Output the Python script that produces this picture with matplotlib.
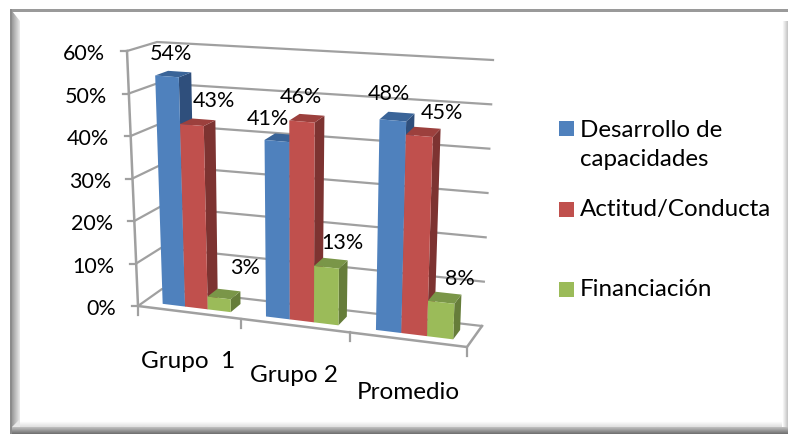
import matplotlib
matplotlib.use('Agg')
import matplotlib.pyplot as plt
import numpy as np
from matplotlib.patches import Polygon, Rectangle

plt.rcParams['font.family'] = ['Lato', 'DejaVu Sans']

grupos = ['Grupo  1', 'Grupo 2', 'Promedio']
series = ['Desarrollo de\ncapacidades', 'Actitud/Conducta', 'Financiación']
desarrollo = [54, 41, 48]
actitud = [43, 46, 45]
financiacion = [3, 13, 8]
ticks_y = [0, 10, 20, 30, 40, 50, 60]

colores = ['#4F81BD', '#C0504D', '#9BBB59']
laterales = ['#2F4F7C', '#7D3331', '#667D3A']
techos = ['#3A6498', '#9C403D', '#7A9648']

# esquinas de la caja 3D en pixeles: (x categoria, profundidad, valor)
esq = {(0, 0, 0): (138, 307), (1, 0, 0): (467, 348),
       (0, 1, 0): (162, 290), (1, 1, 0): (482, 327),
       (0, 0, 1): (127, 52), (1, 0, 1): (477, 80),
       (0, 1, 1): (157, 43), (1, 1, 1): (493, 61)}


def proy(u, v, w):
    # perspectiva en x y luego interpolacion trilineal dentro de la caja
    u = 0.91 * u / (1 - 0.09 * u)
    x, y = 0.0, 0.0
    for (a, b, c), (px, py) in esq.items():
        f = (u if a else 1 - u) * (v if b else 1 - v) * (w if c else 1 - w)
        x += f * px
        y += f * py
    return x, y


def cara(ax, puntos, color, z):
    ax.add_patch(Polygon([proy(*p) for p in puntos], closed=True, fc=color, ec='none', zorder=z))


def barra(ax, i, j, valor, z):
    u0 = (i + 0.185 + j * 0.222) / 3
    u1 = u0 + 0.222 / 3
    v0, v1 = 0.26, 0.71
    w = valor / 60
    cara(ax, [(u1, v0, 0), (u1, v1, 0), (u1, v1, w), (u1, v0, w)], laterales[j], z)
    cara(ax, [(u0, v0, w), (u1, v0, w), (u1, v1, w), (u0, v1, w)], techos[j], z)
    cara(ax, [(u0, v0, 0), (u1, v0, 0), (u1, v0, w), (u0, v0, w)], colores[j], z + 0.1)


fig = plt.figure(figsize=(7.88, 4.35), dpi=100)
ax = fig.add_axes([0, 0, 1, 1])

# marco biselado alrededor del grafico
ax.imshow(np.linspace(0.62, 0.9, 8).reshape(1, -1), cmap='gray', vmin=0, vmax=1,
          extent=(12, 20, 428, 12), aspect='auto', zorder=1)
ax.add_patch(Polygon([(12, 12), (20, 22), (20, 12)], fc='white', ec='none', zorder=1.5))
ax.add_patch(Polygon([(12, 428), (20, 420), (20, 428)], fc='#E8E8E8', ec='none', zorder=1.5))
ax.imshow(np.linspace(1.0, 0.88, 6).reshape(-1, 1), cmap='gray', vmin=0, vmax=1,
          extent=(20, 785, 428, 422), aspect='auto', zorder=1)
ax.imshow(np.linspace(1.0, 0.78, 6).reshape(1, -1), cmap='gray', vmin=0, vmax=1,
          extent=(782, 788, 428, 22), aspect='auto', zorder=1)
ax.add_patch(Rectangle((10, 10), 778, 2.5, fc='#9A9A9A', ec='none', zorder=2))
ax.add_patch(Rectangle((10, 10), 2.5, 425, fc='#8C8C8C', ec='none', zorder=2))
ax.imshow(np.linspace(0.74, 0.45, 8).reshape(-1, 1), cmap='gray', vmin=0, vmax=1,
          extent=(12, 788, 435, 428), aspect='auto', zorder=2)
ax.set_xlim(0, 788)
ax.set_ylim(435, 0)
ax.axis('off')

gris = '#A0A0A0'
for t in ticks_y:
    w = t / 60
    # linea de reticula: pared lateral y pared del fondo
    p = [proy(0, 0, w), proy(0, 1, w), proy(1, 1, w)]
    ax.plot([q[0] for q in p], [q[1] for q in p], color=gris, lw=1.6, zorder=3)
    x0, y0 = proy(0, 0, w)
    ax.plot([x0 - 6, x0], [y0, y0], color=gris, lw=1.6, zorder=3)
    ax.text(x0 - 21.5, y0 + 2.5, f'{t}%', ha='right', va='center', fontsize=15.5, color='black', zorder=6)

# ejes y suelo
p = [proy(0, 0, 1), proy(0, 0, 0), proy(1, 0, 0), proy(1, 1, 0)]
ax.plot([q[0] for q in p], [q[1] for q in p], color=gris, lw=1.8, zorder=3)
for k in range(4):
    x0, y0 = proy(k / 3, 0, 0)
    ax.plot([x0, x0], [y0, y0 + 9], color=gris, lw=1.6, zorder=3)

valores = [desarrollo, actitud, financiacion]
for i in range(3):
    for j in range(3):
        barra(ax, i, j, valores[j][i], 4 + i + j * 0.2)

# etiquetas de datos, desplazadas a mano como en la hoja original
desp = {(0, 0): (-3, -11), (1, 0): (-15, -9), (2, 0): (-9, -13),
        (0, 1): (16, -12), (1, 1): (-6, -12), (2, 1): (18, -10),
        (0, 2): (21, -17), (1, 2): (11, -11), (2, 2): (15, -9)}
for i in range(3):
    for j in range(3):
        v = valores[j][i]
        x, y = proy((i + 0.185 + 0.222 * (j + 0.5)) / 3, 0.5, v / 60)
        dx, dy = desp[(i, j)]
        ax.text(x + dx, y + dy, f'{v}%', ha='center', va='bottom', fontsize=15.5, color='black', zorder=8)

# nombres de categoria escalonados
pos_cat = [(188, 362), (294, 376), (408, 393)]
for nombre, (x, y) in zip(grupos, pos_cat):
    ax.text(x, y, nombre, ha='center', va='center', fontsize=17.5, color='black', zorder=6)

# leyenda
ley_y = [129.5, 210.5, 290.5]
txt_y = [145, 210, 290]
for nombre, color, y, ty in zip(series, colores, ley_y, txt_y):
    ax.add_patch(Rectangle((559, y - 7.5), 15, 15, fc=color, ec='none', zorder=6))
    ax.text(580, ty, nombre, ha='left', va='center', fontsize=17.4, linespacing=1.42, color='black', zorder=6)

fig.savefig('out.png', dpi=100)
plt.close()
